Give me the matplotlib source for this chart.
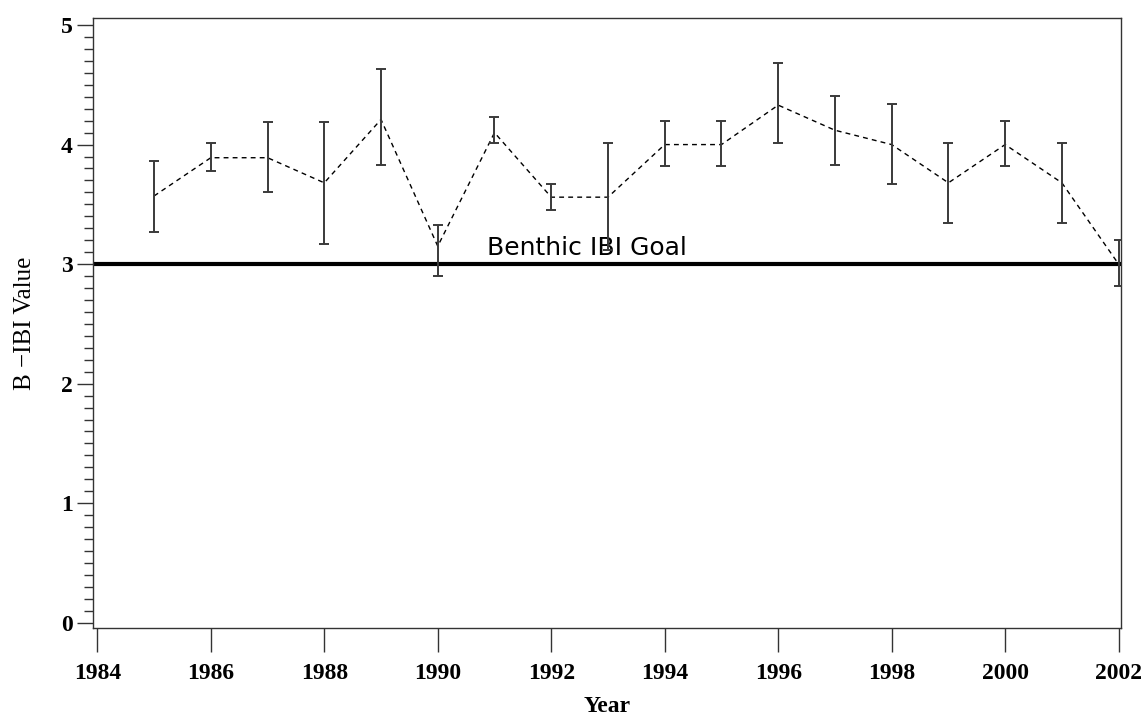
import matplotlib
matplotlib.use("Agg")
import matplotlib.pyplot as plt
import matplotlib.ticker as mticker
import numpy as np

# ── data ──────────────────────────────────────────────────────────────────────
years = [1985, 1986, 1987, 1988, 1989, 1990, 1991, 1992, 1993,
         1994, 1995, 1996, 1997, 1998, 1999, 2000, 2001, 2002]
ibi_mean = [3.57, 3.89, 3.89, 3.68, 4.21, 3.15, 4.10, 3.56, 3.56,
            4.00, 4.00, 4.33, 4.12, 4.00, 3.68, 4.00, 3.68, 3.00]
ibi_upper = [3.86, 4.01, 4.19, 4.19, 4.63, 3.33, 4.23, 3.67, 4.01,
             4.20, 4.20, 4.68, 4.41, 4.34, 4.01, 4.20, 4.01, 3.20]
ibi_lower = [3.27, 3.78, 3.60, 3.17, 3.83, 2.90, 4.01, 3.45, 3.12,
             3.82, 3.82, 4.01, 3.83, 3.67, 3.34, 3.82, 3.34, 2.82]
goal = 3.0
goal_label = "Benthic IBI Goal"

x_ticks = list(range(1984, 2003, 2))
y_ticks = [0, 1, 2, 3, 4, 5]

SERIF = "Liberation Serif"
C_BAR = "#3a3a3a"

fig = plt.figure(figsize=(11.44, 7.25), dpi=100)
ax = fig.add_axes([0.0813, 0.1338, 0.8987, 0.8414])

mean = np.array(ibi_mean)
yerr = [mean - np.array(ibi_lower), np.array(ibi_upper) - mean]

ax.axhline(goal, color="black", linewidth=3.0, zorder=2)
ax.plot(years, ibi_mean, color="black", linewidth=1.0,
        linestyle=(0, (3.5, 3)), zorder=3)
ax.errorbar(years, ibi_mean, yerr=yerr, fmt="none", ecolor=C_BAR,
            elinewidth=1.4, capsize=3.5, capthick=1.4, zorder=4)

# goal label sits just above the thick goal line
ax.text(1990.87, goal + 0.08, goal_label, fontsize=18, family="DejaVu Sans",
        color="black", ha="left", va="baseline")

ax.set_xlim(1983.924, 2002.044)
ax.set_ylim(-0.044, 5.059)
ax.set_xticks(x_ticks)
ax.set_yticks(y_ticks)
ax.yaxis.set_minor_locator(mticker.MultipleLocator(0.1))

for sp in ax.spines.values():
    sp.set_color("#333333")
    sp.set_linewidth(1.0)

ax.tick_params(axis="x", which="major", direction="out", length=17.5,
               width=1.0, color="#333333", pad=8)
ax.tick_params(axis="y", which="major", direction="out", length=11.5,
               width=1.0, color="#333333", pad=3)
ax.tick_params(axis="y", which="minor", direction="out", length=6.5,
               width=1.0, color="#333333")

for lab in ax.get_xticklabels() + ax.get_yticklabels():
    lab.set_family(SERIF)
    lab.set_fontsize(17)
    lab.set_fontweight("bold")

ax.set_xlabel("Year", family=SERIF, fontsize=17, fontweight="bold", labelpad=8)
ax.set_ylabel("B \u2212IBI Value", family=SERIF, fontsize=18,
              labelpad=18)

fig.savefig("out.png", dpi=100)
